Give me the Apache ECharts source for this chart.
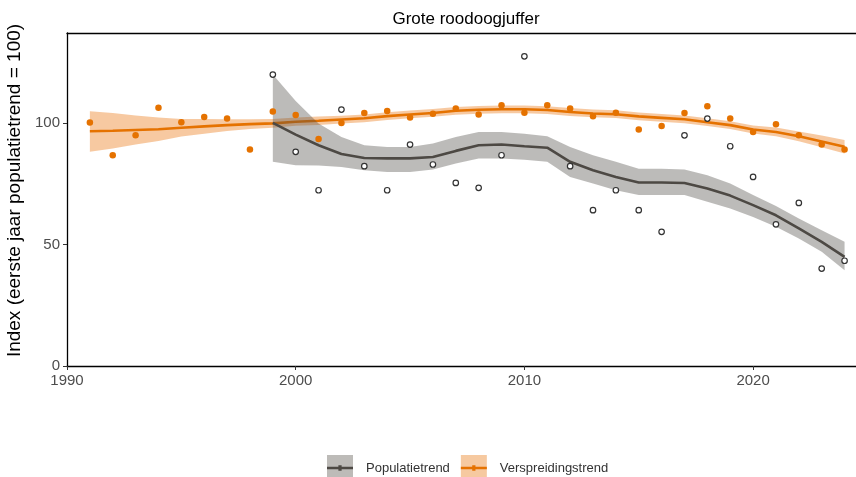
<!DOCTYPE html>
<html lang="nl">
<head>
    <meta charset="UTF-8">
    <title>Grote roodoogjuffer</title>
    <script src="https://cdn.jsdelivr.net/npm/echarts@6/dist/echarts.min.js"></script>
    <style>
        body { margin: 0; background: #fff; }
        #chart { width: 856px; height: 477px; }
    </style>
</head>
<body>
    <div id="chart"></div>
    <script>
        // Verspreidingstrend (1991-2024)
        const verspreidingJaren = [1991, 1992, 1993, 1994, 1995, 1996, 1997, 1998, 1999, 2000,
            2001, 2002, 2003, 2004, 2005, 2006, 2007, 2008, 2009, 2010,
            2011, 2012, 2013, 2014, 2015, 2016, 2017, 2018, 2019, 2020,
            2021, 2022, 2023, 2024];
        const verspreidingPunten = [100.2, 86.7, 94.9, 106.2, 100.3, 102.4, 101.8, 89.1, 104.7, 103.3,
            93.4, 100.0, 104.1, 104.9, 102.2, 103.8, 105.9, 103.5, 107.3, 104.2,
            107.3, 105.9, 102.7, 104.2, 97.3, 98.7, 104.1, 106.9, 101.8, 96.3,
            99.5, 94.9, 91.1, 89.1];
        const verspreidingTrend = [96.6, 96.8, 97.1, 97.4, 98.0, 98.6, 99.1, 99.5, 99.8, 100.5,
            100.9, 101.4, 101.9, 102.8, 103.5, 104.1, 105.0, 105.4, 105.6, 105.6,
            105.3, 104.5, 103.9, 103.6, 102.7, 102.1, 101.5, 100.3, 99.1, 97.3,
            96.3, 94.5, 92.4, 90.2];
        const verspreidingLaag = [88.1, 89.5, 91.1, 92.6, 94.4, 95.6, 96.7, 97.5, 98.0, 98.8,
            99.2, 99.8, 100.3, 101.2, 101.9, 102.5, 103.4, 103.8, 104.0, 104.0,
            103.7, 102.9, 102.3, 102.0, 101.1, 100.5, 99.9, 98.7, 97.5, 95.7,
            94.5, 92.5, 90.0, 87.4];
        const verspreidingHoog = [104.8, 104.1, 103.1, 102.2, 101.6, 101.6, 101.5, 101.5, 101.6, 102.2,
            102.6, 103.0, 103.5, 104.4, 105.1, 105.7, 106.6, 107.0, 107.2, 107.2,
            106.9, 106.1, 105.5, 105.2, 104.3, 103.7, 103.1, 101.9, 100.7, 98.9,
            98.1, 96.5, 94.8, 93.0];

        // Populatietrend (1999-2024)
        const populatieJaren = [1999, 2000, 2001, 2002, 2003, 2004, 2005, 2006, 2007, 2008,
            2009, 2010, 2011, 2012, 2013, 2014, 2015, 2016, 2017, 2018,
            2019, 2020, 2021, 2022, 2023, 2024];
        const populatiePunten = [119.9, 88.1, 72.3, 105.5, 82.2, 72.3, 91.1, 82.9, 75.3, 73.3,
            86.7, 127.4, 138.0, 82.2, 64.1, 72.3, 64.1, 55.2, 94.9, 101.8,
            90.4, 77.8, 58.3, 67.1, 40.1, 43.3];
        const populatieTrend = [100.0, 95.2, 90.8, 87.2, 85.6, 85.4, 85.4, 86.0, 88.5, 90.8,
            91.1, 90.4, 89.8, 84.0, 80.5, 77.8, 75.5, 75.5, 75.3, 73.0,
            70.1, 66.2, 62.0, 56.6, 51.1, 44.9];
        const populatieLaag = [84.0, 82.6, 82.5, 81.9, 80.5, 79.8, 79.8, 80.8, 83.3, 85.4,
            85.4, 84.9, 84.0, 77.8, 75.1, 72.3, 70.3, 70.3, 70.3, 67.6,
            64.8, 61.3, 57.3, 52.5, 47.0, 39.4];
        const populatieHoog = [119.9, 109.0, 99.8, 94.2, 90.8, 90.1, 90.1, 91.5, 94.2, 96.3,
            96.3, 95.6, 94.5, 90.1, 86.7, 84.0, 81.2, 81.2, 80.8, 78.5,
            75.1, 70.3, 65.8, 60.7, 55.9, 51.1];

        const xTicks = [1990, 2000, 2010, 2020];
        const yTicks = [0, 50, 100];

        const ORANJE = '#e57200';
        const DONKER = '#4d4944';
        const FONT = '"Liberation Sans", Arial, sans-serif';

        const paren = (xs, ys) => xs.map((x, i) => [x, ys[i]]);

        // betrouwbaarheidsband als één polygoon via de assen van de grafiek
        function bandSerie(naam, jaren, laag, hoog, kleur, z) {
            return {
                name: naam,
                type: 'custom',
                z: z,
                silent: true,
                data: jaren.map((j, i) => [j, laag[i], hoog[i]]),
                encode: { x: 0, y: [1, 2] },
                renderItem: function (params, api) {
                    if (params.dataIndex !== 0) return null;
                    const boven = jaren.map((j, i) => api.coord([j, hoog[i]]));
                    const onder = jaren.map((j, i) => api.coord([j, laag[i]])).reverse();
                    return {
                        type: 'polygon',
                        shape: { points: boven.concat(onder) },
                        style: { fill: kleur }
                    };
                }
            };
        }

        const legendaData = [
            { name: 'Populatietrend', color: '#bdbbb8', lijn: DONKER },
            { name: 'Verspreidingstrend', color: '#f6c9a0', lijn: ORANJE }
        ];
        const lijnIcoon = 'path://M0,0h0.1v0.1h-0.1z M0,10.8h24v2.4h-24z M10.5,9.5h3v5h-3z M23.9,23.9h0.1v0.1h-0.1z';
        const legendaBasis = {
            left: 322,
            top: 450,
            itemWidth: 26,
            itemHeight: 26,
            itemGap: 11,
            selectedMode: false,
            textStyle: { fontFamily: FONT, fontSize: 13, color: '#333', padding: [0, 0, 0, 8] }
        };

        const chart = echarts.init(document.getElementById('chart'));
        chart.setOption({
            animation: false,
            title: {
                text: 'Grote roodoogjuffer',
                left: 461,
                top: 6,
                textAlign: 'center',
                textStyle: { fontFamily: FONT, fontSize: 17, fontWeight: 'normal', color: '#000' }
            },
            legend: [
                Object.assign({}, legendaBasis, {
                    data: legendaData.map(d => ({ name: d.name, icon: 'rect', itemStyle: { color: d.color, borderWidth: 0 } }))
                }),
                Object.assign({}, legendaBasis, {
                    z: 5,
                    textStyle: Object.assign({}, legendaBasis.textStyle, { color: 'rgba(0,0,0,0)' }),
                    data: legendaData.map(d => ({ name: d.name, icon: lijnIcoon, itemStyle: { color: d.lijn, borderWidth: 0 } }))
                })
            ],
            grid: { left: 67, right: 0, top: 33, bottom: 111, containLabel: false, outerBoundsMode: 'none' },
            xAxis: [{
                type: 'value',
                min: 1990,
                max: 2024.5,
                splitLine: { show: false },
                axisLine: { lineStyle: { color: '#000', width: 1.3 } },
                axisTick: { length: 4, lineStyle: { color: '#333' }, customValues: xTicks },
                axisLabel: {
                    customValues: xTicks, margin: 7, fontFamily: FONT, fontSize: 15, color: '#4d4d4d',
                    formatter: v => String(v)
                }
            }, {
                type: 'value',
                position: 'top',
                min: 1990,
                max: 2024.5,
                splitLine: { show: false },
                axisLine: { show: true, lineStyle: { color: '#000', width: 1.3 } },
                axisTick: { show: false },
                axisLabel: { show: false }
            }],
            yAxis: {
                type: 'value',
                min: 0,
                max: 137,
                name: 'Index (eerste jaar populatietrend = 100)',
                nameLocation: 'middle',
                nameGap: 34,
                nameTextStyle: { fontFamily: FONT, fontSize: 19, color: '#000', padding: [0, 0, 0, 18] },
                splitLine: { show: false },
                axisLine: { show: true, lineStyle: { color: '#000', width: 1.3 } },
                axisTick: { show: true, length: 4, lineStyle: { color: '#333' }, customValues: yTicks },
                axisLabel: { customValues: yTicks, margin: 7, fontFamily: FONT, fontSize: 15, color: '#4d4d4d' }
            },
            series: [
                bandSerie('vBand', verspreidingJaren, verspreidingLaag, verspreidingHoog, 'rgba(236, 120, 20, 0.4)', 1),
                {
                    name: 'Verspreidingstrend', type: 'line', z: 2, symbol: 'none',
                    itemStyle: { color: ORANJE },
                    lineStyle: { color: ORANJE, width: 2.6 },
                    data: paren(verspreidingJaren, verspreidingTrend)
                },
                bandSerie('pBand', populatieJaren, populatieLaag, populatieHoog, 'rgba(80, 76, 70, 0.38)', 3),
                {
                    name: 'Populatietrend', type: 'line', z: 4, symbol: 'none',
                    itemStyle: { color: DONKER },
                    lineStyle: { color: DONKER, width: 2.6 },
                    data: paren(populatieJaren, populatieTrend)
                },
                {
                    name: 'vPunten', type: 'scatter', z: 5, symbol: 'circle', symbolSize: 6.5,
                    itemStyle: { color: ORANJE, opacity: 1 },
                    data: paren(verspreidingJaren, verspreidingPunten)
                },
                {
                    name: 'pPunten', type: 'scatter', z: 5, symbol: 'circle', symbolSize: 5.5,
                    itemStyle: { color: '#fff', borderColor: '#333', borderWidth: 1.2, opacity: 1 },
                    data: paren(populatieJaren, populatiePunten)
                }
            ]
        });
    </script>
</body>
</html>
